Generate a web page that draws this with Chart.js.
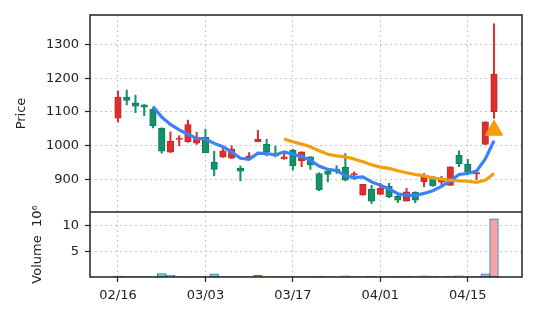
<!DOCTYPE html>
<html lang="en">
<head>
<meta charset="UTF-8">
<title>Price and Volume</title>
<script src="https://cdn.jsdelivr.net/npm/chart.js"></script>
<style>
  html, body { margin: 0; padding: 0; background: #fff; }
</style>
</head>
<body>
<canvas id="priceChart" width="537" height="322"></canvas>
<script>
// daily candles, one per trading day (index 0 = 02/16)
const opens  = [1082,1144,1127,1121,1108,1052, 981,1019,1012,1008,1025, 951, 966, 963, 933, 963,1012,1004, 977, 961, 987, 955,
                 967, 918, 925, 930, 936, 913, 854, 871, 856, 881, 851, 836, 862, 893, 908, 892, 883, 972, 946, 917,1004,1101];
const highs  = [1162,1165,1150,1122,1110,1053,1041,1030,1076,1040,1049, 984, 995,1000, 940, 980,1046,1019, 999, 977, 990, 982,
                 968, 920, 931, 941, 977, 923, 886, 883, 889, 889, 859, 874, 864, 918, 910, 910, 938, 985, 960, 923,1071,1361];
const lows   = [1070,1121,1098,1089,1053, 978, 980,1000,1010,1004, 979, 911, 966, 962, 896, 962,1012, 970, 967, 960, 928, 938,
                 930, 867, 893, 918, 896, 900, 854, 829, 856, 846, 832, 836, 831, 879, 880, 883, 883, 938, 918, 900,1004,1081];
const closes = [1144,1134,1117,1114,1059, 984,1013,1023,1063,1020, 979, 930, 985, 990, 925, 970,1019, 982, 970, 967, 940, 982,
                 943, 869, 915, 925, 898, 918, 886, 836, 874, 849, 839, 864, 839, 910, 881, 900, 938, 946, 921, 921,1071,1212];
// volume in millions
const volumes = [0.2,0.15,0.08,0.08,0.08,0.65,0.35,0.08,0.08,0.08,0.08,0.6,0.08,0.08,0.08,0.08,0.3,0.08,0.08,0.08,0.08,0.08,
                 0.15,0.2,0.08,0.08,0.25,0.08,0.08,0.2,0.08,0.08,0.2,0.2,0.08,0.25,0.2,0.08,0.2,0.25,0.08,0.08,0.6,11.3];

// moving averages
const ma5Start = 4;
const ma5 = [1116,1085,1063,1047,1034,1022,1020,1007, 997, 982, 963, 960, 978, 977, 973, 982, 975, 968, 957, 940,
              930, 927, 911, 906, 908, 893, 883, 872, 858, 853, 853, 859, 867, 880, 896, 915, 918, 925, 961,1015];
const ma20Start = 19;
const ma20 = [1020,1012,1005, 997, 985, 975, 970, 967, 961, 953, 944, 937, 933, 926, 920, 915, 911, 905, 901, 898,
               896, 895, 892, 898, 918];

const signalIdx = 43;
const signalPrice = 1046;

const tickIdx = [0, 10, 20, 30, 40];
const tickLabels = ['02/16', '03/03', '03/17', '04/01', '04/15'];
const priceTicks = [900, 1000, 1100, 1200, 1300];
const volumeTicks = [5, 10];

const RED = '#dc2f2f', RED_EDGE = '#c92626';
const GREEN = '#12916a', GREEN_EDGE = '#0c7f5c';
const font = { family: 'DejaVu Sans', size: 13 };
const ink = '#222';

const isUp = closes.map((c, i) => c >= opens[i]);

const gridOpts = { color: '#c8c8c8', lineWidth: 1, tickLength: 5, tickColor: ink, tickWidth: 1.2 };

// box around both panels plus the line between them
const frame = {
    id: 'frame',
    afterDraw(chart) {
        const { ctx, chartArea: a, scales } = chart;
        ctx.save();
        ctx.strokeStyle = ink;
        ctx.lineWidth = 1.5;
        ctx.strokeRect(a.left, a.top, a.right - a.left, a.bottom - a.top);
        ctx.beginPath();
        ctx.moveTo(a.left, scales.y.bottom);
        ctx.lineTo(a.right, scales.y.bottom);
        ctx.stroke();
        ctx.restore();
    }
};

new Chart(document.getElementById('priceChart'), {
    type: 'bar',
    data: {
        datasets: [
            {
                label: 'wick',
                data: highs.map((h, i) => ({ x: i, y: [lows[i], h] })),
                backgroundColor: isUp.map(u => u ? RED : GREEN),
                barThickness: 1.4,
                grouped: false,
                yAxisID: 'y',
                order: 4
            },
            {
                label: 'body',
                data: opens.map((o, i) => ({ x: i, y: [o, closes[i]] })),
                backgroundColor: isUp.map(u => u ? RED : GREEN),
                borderColor: isUp.map(u => u ? RED_EDGE : GREEN_EDGE),
                borderWidth: 1,
                borderSkipped: false,
                barThickness: 6.5,
                grouped: false,
                yAxisID: 'y',
                order: 3
            },
            {
                label: 'Volume',
                data: volumes.map((v, i) => ({ x: i, y: v })),
                backgroundColor: isUp.map(u => u ? '#f5a3a3' : '#7fd0b6'),
                borderColor: '#2b7bbf',
                borderWidth: 1,
                borderSkipped: false,
                barPercentage: 1,
                categoryPercentage: 1,
                grouped: false,
                yAxisID: 'yv',
                order: 5
            },
            {
                type: 'line',
                label: 'MA5',
                data: ma5.map((v, i) => ({ x: i + ma5Start, y: v })),
                borderColor: '#3b82f6',
                borderWidth: 3.2,
                pointRadius: 0,
                yAxisID: 'y',
                order: 2
            },
            {
                type: 'line',
                label: 'MA20',
                data: ma20.map((v, i) => ({ x: i + ma20Start, y: v })),
                borderColor: '#f59e0b',
                borderWidth: 3.2,
                pointRadius: 0,
                yAxisID: 'y',
                order: 1
            },
            {
                type: 'line',
                label: 'signal',
                data: [{ x: signalIdx, y: signalPrice }],
                showLine: false,
                pointStyle: 'triangle',
                pointRadius: 10,
                backgroundColor: '#f59e0b',
                borderColor: '#f59e0b',
                yAxisID: 'y',
                order: 0
            }
        ]
    },
    options: {
        responsive: false,
        animation: false,
        layout: { padding: { top: 15, right: 15, left: 0, bottom: 0 } },
        plugins: { legend: { display: false }, tooltip: { enabled: false } },
        scales: {
            x: {
                type: 'linear',
                min: -3.2,
                max: 46.2,
                offset: false,
                afterBuildTicks: s => { s.ticks = tickIdx.map(v => ({ value: v })); },
                afterFit: s => { s.height = 45; },
                ticks: {
                    autoSkip: false,
                    maxRotation: 0,
                    padding: 6,
                    font: font,
                    color: ink,
                    callback: v => tickLabels[tickIdx.indexOf(v)] ?? ''
                },
                grid: { ...gridOpts, offset: false },
                border: { display: false, dash: [2, 3] }
            },
            // volume panel declared first so it sits under the price panel
            yv: {
                type: 'linear',
                position: 'left',
                stack: 'panels',
                stackWeight: 65,
                min: 0,
                max: 12.6,
                afterBuildTicks: s => { s.ticks = volumeTicks.map(v => ({ value: v })); },
                afterFit: s => { s.width = 90; },
                ticks: { font: font, color: ink, padding: 6, callback: v => String(v) },
                grid: gridOpts,
                border: { display: false, dash: [2, 3] },
                title: { display: true, text: 'Volume  10\u2076', font: font, color: ink, padding: { top: 30, bottom: 0 } }
            },
            y: {
                type: 'linear',
                position: 'left',
                stack: 'panels',
                stackWeight: 197,
                min: 804,
                max: 1387,
                afterBuildTicks: s => { s.ticks = priceTicks.map(v => ({ value: v })); },
                afterFit: s => { s.width = 90; },
                ticks: { font: font, color: ink, padding: 6, callback: v => String(v) },
                grid: gridOpts,
                border: { display: false, dash: [2, 3] },
                title: { display: true, text: 'Price', font: font, color: ink, padding: { top: 14, bottom: 0 } }
            }
        }
    },
    plugins: [frame]
});
</script>
</body>
</html>
